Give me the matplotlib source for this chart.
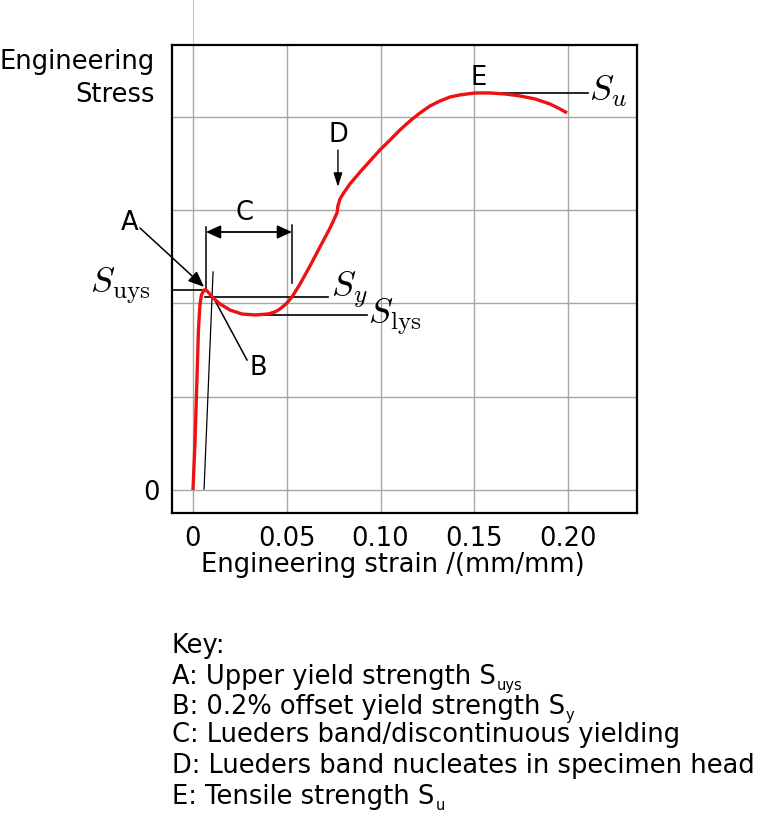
import matplotlib
matplotlib.use("Agg")
import matplotlib.pyplot as plt

# ---- data ----
strain = [0.0, 0.0011, 0.0021, 0.0029, 0.0037, 0.0045, 0.0059, 0.0069, 0.0085,
          0.0107, 0.0144, 0.0197, 0.0261, 0.0331, 0.0400, 0.0437, 0.0464,
          0.0496, 0.0528, 0.0571, 0.0624, 0.0677, 0.0731, 0.0768, 0.0773,
          0.0784, 0.0800, 0.0837, 0.0891, 0.0944, 0.0997, 0.1051, 0.1104,
          0.1157, 0.1211, 0.1264, 0.1317, 0.1371, 0.1424, 0.1504, 0.1584,
          0.1664, 0.1744, 0.1824, 0.1904, 0.1957, 0.1995]
stress = [0.0, 0.536, 1.179, 1.715, 1.983, 2.09, 2.144, 2.144, 2.111,
          2.058, 1.994, 1.929, 1.886, 1.876, 1.886, 1.908, 1.940,
          1.994, 2.069, 2.208, 2.401, 2.604, 2.808, 2.969, 3.044,
          3.119, 3.173, 3.280, 3.408, 3.526, 3.644, 3.751, 3.859,
          3.955, 4.041, 4.116, 4.169, 4.212, 4.234, 4.255, 4.255,
          4.244, 4.223, 4.191, 4.137, 4.084, 4.041]

xticks = [0.0, 0.05, 0.10, 0.15, 0.20]
xticklabels = ["0", "0.05", "0.10", "0.15", "0.20"]
ygrid = [0, 1, 2, 3, 4]
yticks = [0]
yticklabels = ["0"]

offset_line_x = [0.0059, 0.0107]
offset_line_y = [0.01, 2.337]

s_uys = 2.144
s_y = 2.069
s_lys = 1.876
s_u = 4.255

key_main = [
    "Key:",
    "A: Upper yield strength S",
    "B: 0.2% offset yield strength S",
    "C: Lueders band/discontinuous yielding",
    "D: Lueders band nucleates in specimen head",
    "E: Tensile strength S",
]
key_sub = ["", "uys", "y", "", "", "u"]
key_baseline_px = [653, 684, 714, 742, 773, 804]

# ---- figure ----
W, H = 760, 817
fig = plt.figure(figsize=(W / 100, H / 100), dpi=100)
ax = fig.add_axes([172 / W, 1 - 513 / H, (637 - 172) / W, (513 - 45) / H])
ax.set_xlim(-0.0112, 0.2368)
ax.set_ylim(-0.2465, 4.769)

FS = 18.5
SFS = 26
gridc = "#a6a6a6"
for gx in xticks:
    ax.axvline(gx, color=gridc, lw=1.0, zorder=1)
for gy in ygrid:
    ax.axhline(gy, color=gridc, lw=1.0, zorder=1)
# faint grid extension above the frame at x = 0
ax.plot([0, 0], [4.769, 5.4], color="#c8c8c8", lw=0.8, clip_on=False, zorder=0)

for s in ax.spines.values():
    s.set_linewidth(1.6)
    s.set_color("black")

ax.set_xticks(xticks)
ax.set_xticklabels(xticklabels, fontsize=FS)
ax.set_yticks(yticks)
ax.set_yticklabels(yticklabels, fontsize=FS)
ax.tick_params(length=0, pad=9)

# curve
ax.plot(strain, stress, color="#ee1111", lw=2.4, solid_joinstyle="round",
        solid_capstyle="butt", zorder=4)

# 0.2% offset line
ax.plot(offset_line_x, offset_line_y, color="black", lw=0.9, zorder=3)

lk = dict(color="black", lw=1.2, zorder=3)
# S_uys
ax.plot([-0.0203, 0.0064], [s_uys, s_uys], **lk)
ax.text(-0.0225, s_uys + 0.04, r"$S_{\rm uys}$", fontsize=SFS, ha="right", va="center",
        math_fontfamily="cm")
# S_y
ax.plot([0.0064, 0.072], [s_y, s_y], **lk)
ax.text(0.0735, s_y + 0.08, r"$S_{y}$", fontsize=SFS, ha="left", va="center",
        math_fontfamily="cm")
# S_lys
ax.plot([0.0315, 0.0928], [s_lys, s_lys], **lk)
ax.text(0.0935, s_lys - 0.02, r"$S_{\rm lys}$", fontsize=SFS, ha="left", va="center",
        math_fontfamily="cm")
# S_u
ax.plot([0.150, 0.2105], [s_u, s_u], **lk)
ax.text(0.2113, s_u + 0.02, r"$S_{u}$", fontsize=SFS, ha="left", va="center",
        math_fontfamily="cm")

# A
ax.annotate("", xy=(0.0059, 2.176), xytext=(-0.0283, 2.808),
            arrowprops=dict(arrowstyle="-|>,head_length=0.6,head_width=0.25",
                            color="black", lw=1.1,
                            mutation_scale=16, shrinkA=0, shrinkB=0), zorder=5)
ax.text(-0.0336, 2.862, "A", fontsize=FS, ha="center", va="center")
# B
ax.plot([0.0107, 0.0288], [2.069, 1.393], color="black", lw=1.1, zorder=3)
ax.text(0.0347, 1.308, "B", fontsize=FS, ha="center", va="center")
# C
ax.plot([0.0069, 0.0069], [2.144, 2.819], color="black", lw=1.1)
ax.plot([0.0528, 0.0528], [2.219, 2.840], color="black", lw=1.1)
ax.annotate("", xy=(0.0528, 2.765), xytext=(0.0069, 2.765),
            arrowprops=dict(arrowstyle="<|-|>,head_length=0.55,head_width=0.25",
                            color="black", lw=1.3,
                            mutation_scale=16, shrinkA=0, shrinkB=0))
ax.text(0.0277, 2.969, "C", fontsize=FS, ha="center", va="center")
# D
ax.annotate("", xy=(0.0773, 3.248), xytext=(0.0773, 3.644),
            arrowprops=dict(arrowstyle="-|>,head_length=0.7,head_width=0.22",
                            color="black", lw=1.0,
                            mutation_scale=12, shrinkA=0, shrinkB=0))
ax.text(0.0773, 3.805, "D", fontsize=FS, ha="center", va="center")
# E
ax.text(0.1525, 4.416, "E", fontsize=FS, ha="center", va="center")

# axis labels
fig.text(155 / W, 1 - 62 / H, "Engineering", fontsize=FS, ha="right", va="center")
fig.text(155 / W, 1 - 95 / H, "Stress", fontsize=FS, ha="right", va="center")
fig.text(393 / W, 1 - 565 / H, "Engineering strain /(mm/mm)", fontsize=FS,
         ha="center", va="center")

# key
renderer = fig.canvas.get_renderer()
for txt, sub, yb in zip(key_main, key_sub, key_baseline_px):
    t = fig.text(172 / W, 1 - yb / H, txt, fontsize=FS, ha="left", va="baseline")
    if sub:
        bb = t.get_window_extent(renderer=renderer)
        fig.text((bb.x1 + 1) / W, 1 - (yb + 6) / H, sub, fontsize=10.5,
                 ha="left", va="baseline")

fig.savefig("out.png", dpi=100)
